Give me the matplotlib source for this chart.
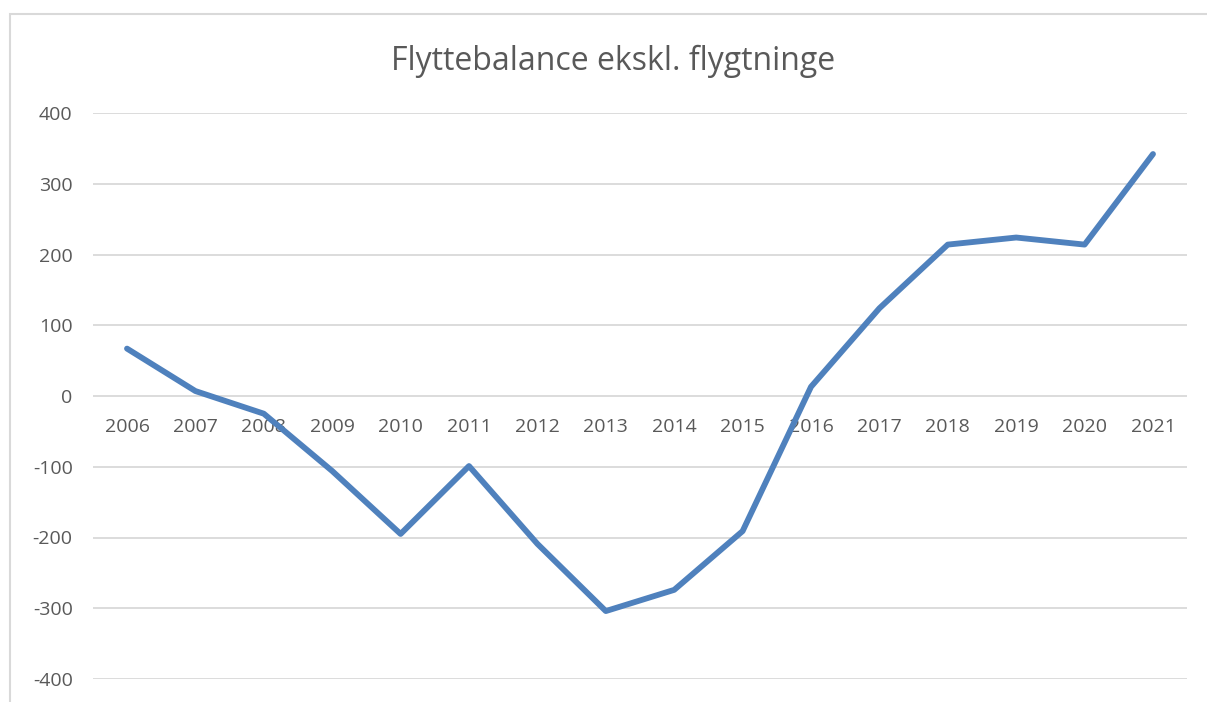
import matplotlib
matplotlib.use("Agg")
import matplotlib.pyplot as plt
from matplotlib.patches import Rectangle

years = ["2006", "2007", "2008", "2009", "2010", "2011", "2012", "2013",
         "2014", "2015", "2016", "2017", "2018", "2019", "2020", "2021"]
balance = [67, 7, -25, -106, -195, -99, -209, -304,
           -274, -191, 13, 124, 214, 224, 214, 342]
y_ticks = [-400, -300, -200, -100, 0, 100, 200, 300, 400]

plt.rcParams["font.family"] = ["Open Sans", "DejaVu Sans"]
text_color = "#595959"
grid_color = "#d9d9d9"

fig = plt.figure(figsize=(12.07, 7.02), dpi=100)
# chart frame (cropped at right and bottom like the screenshot)
fig.patches.append(Rectangle((10 / 1207, -0.1), 1.2, 1 - 14 / 702 + 0.1,
                             transform=fig.transFigure, fill=False,
                             edgecolor=grid_color, linewidth=1.5))

ax = fig.add_axes([92.8 / 1207, 1 - 679 / 702, 1094.4 / 1207, 566 / 702])
x = list(range(len(years)))
ax.plot(x, balance, color="#4F81BD", linewidth=4.2, solid_capstyle="round",
        solid_joinstyle="round", zorder=3)

ax.set_xlim(-0.5, len(years) - 0.5)
ax.set_ylim(-400, 400)
ax.set_yticks(y_ticks)
ax.set_yticklabels([str(v) for v in y_ticks])
ax.set_xticks([])
ax.tick_params(axis="y", length=0, pad=14.5, labelsize=14, labelcolor=text_color)
for s in ax.spines.values():
    s.set_visible(False)
ax.grid(axis="y", color=grid_color, linewidth=1.3, zorder=0)
ax.set_axisbelow(True)

for xi, lab in zip(x, years):
    ax.annotate(lab, (xi, 0), xytext=(0, -22.5), textcoords="offset points",
                ha="center", va="center", fontsize=14, color=text_color,
                zorder=2)

fig.text(613 / 1207, 1 - 61 / 702, "Flyttebalance ekskl. flygtninge",
         ha="center", va="center", fontsize=23, color=text_color)

fig.savefig("out.png", dpi=100, facecolor="white")
